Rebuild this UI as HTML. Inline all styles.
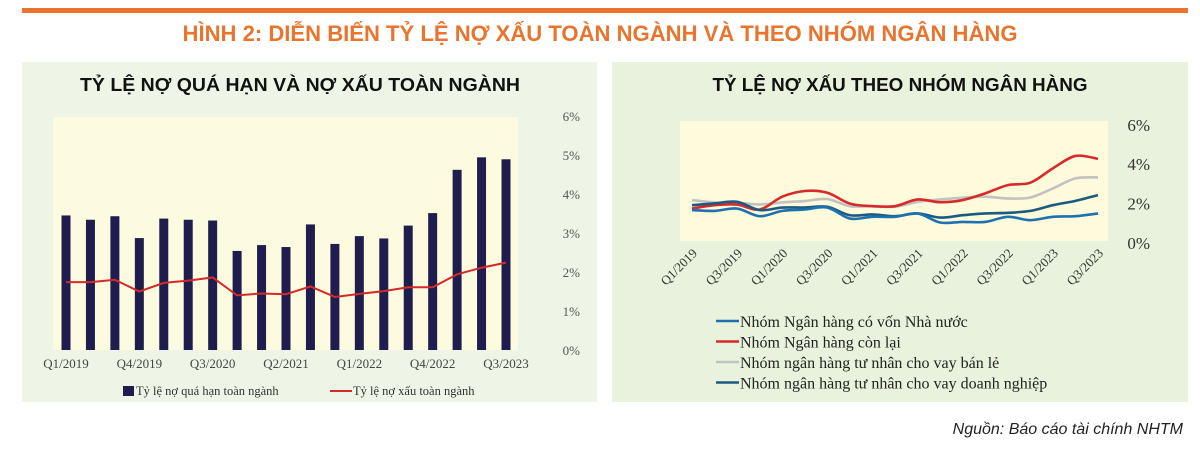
<!DOCTYPE html>
<html><head><meta charset="utf-8">
<style>
body{margin:0;width:1200px;height:452px;background:#fff;overflow:hidden;font-family:"Liberation Serif",serif}
svg{display:block}
.t{font-family:"Liberation Sans","DejaVu Sans",sans-serif;font-weight:bold}
</style></head><body>
<svg id="svg" width="1200" height="452">
<rect x="22" y="8" width="1166" height="5" fill="#ea7330"/>
<text class="t" x="600" y="41" text-anchor="middle" fill="#e8742e" font-size="22" textLength="835" lengthAdjust="spacingAndGlyphs">HÌNH 2: DIỄN BIẾN TỶ LỆ NỢ XẤU TOÀN NGÀNH VÀ THEO NHÓM NGÂN HÀNG</text>
<rect x="22" y="62" width="575" height="340" fill="#eff5e6"/>
<rect x="612" y="62" width="576" height="340" fill="#e9f2dc"/>
<text class="t" x="300" y="91" text-anchor="middle" font-size="18" fill="#111" textLength="440" lengthAdjust="spacingAndGlyphs">TỶ LỆ NỢ QUÁ HẠN VÀ NỢ XẤU TOÀN NGÀNH</text>
<text class="t" x="900" y="91" text-anchor="middle" font-size="18" fill="#111" textLength="375" lengthAdjust="spacingAndGlyphs">TỶ LỆ NỢ XẤU THEO NHÓM NGÂN HÀNG</text>
<rect x="53" y="117" width="465" height="233" fill="#fdfbdf"/>
<rect x="680" y="121" width="428" height="120" fill="#fdfbdb"/>
<g id="left"></g><g id="right"></g>
<g>
<rect x="123" y="386" width="11" height="10" fill="#1f1d4d"/>
<text x="136" y="395" font-size="12.5" fill="#333">Tỷ lệ nợ quá hạn toàn ngành</text>
<line x1="330" y1="391" x2="352" y2="391" stroke="#d42a2a" stroke-width="2"/>
<text x="353" y="395" font-size="12.5" fill="#333">Tỷ lệ nợ xấu toàn ngành</text>
</g>
<g id="rleg"></g>
<text x="1183" y="434" text-anchor="end" font-family="'Liberation Sans',sans-serif" font-style="italic" font-size="16" fill="#222">Nguồn: Báo cáo tài chính NHTM</text>
</svg>
<script>
const NS="http://www.w3.org/2000/svg";
function mk(p,tag,attrs,txt){const e=document.createElementNS(NS,tag);for(const k in attrs)e.setAttribute(k,attrs[k]);if(txt!=null)e.textContent=txt;p.appendChild(e);return e;}
const quarters=["Q1/2019","Q2/2019","Q3/2019","Q4/2019","Q1/2020","Q2/2020","Q3/2020","Q4/2020","Q1/2021","Q2/2021","Q3/2021","Q4/2021","Q1/2022","Q2/2022","Q3/2022","Q4/2022","Q1/2023","Q2/2023","Q3/2023"];
const overdue=[3.45,3.34,3.43,2.87,3.37,3.34,3.32,2.54,2.69,2.64,3.22,2.72,2.92,2.86,3.19,3.51,4.62,4.94,4.89];
const npl=[1.74,1.74,1.80,1.50,1.72,1.78,1.86,1.40,1.45,1.43,1.63,1.36,1.44,1.51,1.61,1.61,1.94,2.11,2.24];
const yTicks=[0,1,2,3,4,5,6];
const stateOwned=[1.67,1.63,1.75,1.36,1.63,1.70,1.80,1.24,1.33,1.33,1.50,1.04,1.07,1.07,1.33,1.16,1.33,1.36,1.50];
const others=[1.75,1.92,1.95,1.70,2.35,2.64,2.55,2.00,1.87,1.87,2.21,2.07,2.18,2.52,2.94,3.06,3.79,4.42,4.27];
const retail=[2.18,2.06,2.04,1.96,2.06,2.13,2.23,1.87,1.87,1.84,2.09,2.21,2.30,2.35,2.26,2.31,2.77,3.28,3.33];
const corporate=[1.92,2.01,2.09,1.67,1.80,1.80,1.84,1.41,1.45,1.36,1.50,1.29,1.41,1.50,1.53,1.63,1.92,2.14,2.43];
const rTicks=[0,2,4,6];
const seriesNames=["Nhóm Ngân hàng có vốn Nhà nước","Nhóm Ngân hàng còn lại","Nhóm ngân hàng tư nhân cho vay bán lẻ","Nhóm ngân hàng tư nhân cho vay doanh nghiệp"];
// left chart
const L=document.getElementById('left');
const lx=i=>66+i*(440/(quarters.length-1));
const ly=v=>350-v*39;
yTicks.forEach(t=>{const e=mk(L,'text',{x:580,y:ly(t)+5,'text-anchor':'end','font-size':13,fill:'#555'},t+'%');

});
overdue.forEach((v,i)=>{const r=mk(L,'rect',{x:lx(i)-4.5,y:ly(v),width:9,height:ly(0)-ly(v),fill:'#1f1d4d'});

});
const lp=mk(L,'polyline',{points:npl.map((v,i)=>lx(i)+','+ly(v)).join(' '),fill:'none',stroke:'#d42a2a','stroke-width':2});


quarters.forEach((q,i)=>{if(i%3)return;const e=mk(L,'text',{x:lx(i),y:368,'text-anchor':'middle','font-size':13,fill:'#444'},q);

});
// right chart
const R=document.getElementById('right');
const rx=i=>692+i*(406/(quarters.length-1));
const ry=v=>243-v*19.7;
rTicks.forEach(t=>{const e=mk(R,'text',{x:1150,y:ry(t)+6,'text-anchor':'end','font-size':17,fill:'#333'},t+'%');

});
function smooth(arr){const p=arr.map((v,i)=>[rx(i),ry(v)]);let d='M'+p[0][0]+','+p[0][1];
for(let i=0;i<p.length-1;i++){const p0=p[i-1]||p[i],p1=p[i],p2=p[i+1],p3=p[i+2]||p2;
d+=' C'+(p1[0]+(p2[0]-p0[0])/6)+','+(p1[1]+(p2[1]-p0[1])/6)+' '+(p2[0]-(p3[0]-p1[0])/6)+','+(p2[1]-(p3[1]-p1[1])/6)+' '+p2[0]+','+p2[1];}return d;}
const colors=['#1e70b0','#d82a2a','#c2c2c0','#1c5a80'];
const order=[2,1,3,0];const data=[stateOwned,others,retail,corporate];
order.forEach(k=>{const e=mk(R,'path',{d:smooth(data[k]),fill:'none',stroke:colors[k],'stroke-width':2.6});

});
quarters.forEach((q,i)=>{if(i%2)return;const e=mk(R,'text',{x:rx(i)+6,y:254,'text-anchor':'end','font-size':13,fill:'#333',transform:'rotate(-45 '+(rx(i)+6)+' 254)'},q);

});
const G=document.getElementById('rleg');
seriesNames.forEach((n,i)=>{const y=321+i*20.5;
const l=mk(G,'line',{x1:716,y1:y,x2:739,y2:y,stroke:colors[i],'stroke-width':2.5});


const t=mk(G,'text',{x:740,y:y+6,'font-size':16,fill:'#222'},n);

});
</script>
</body></html>
